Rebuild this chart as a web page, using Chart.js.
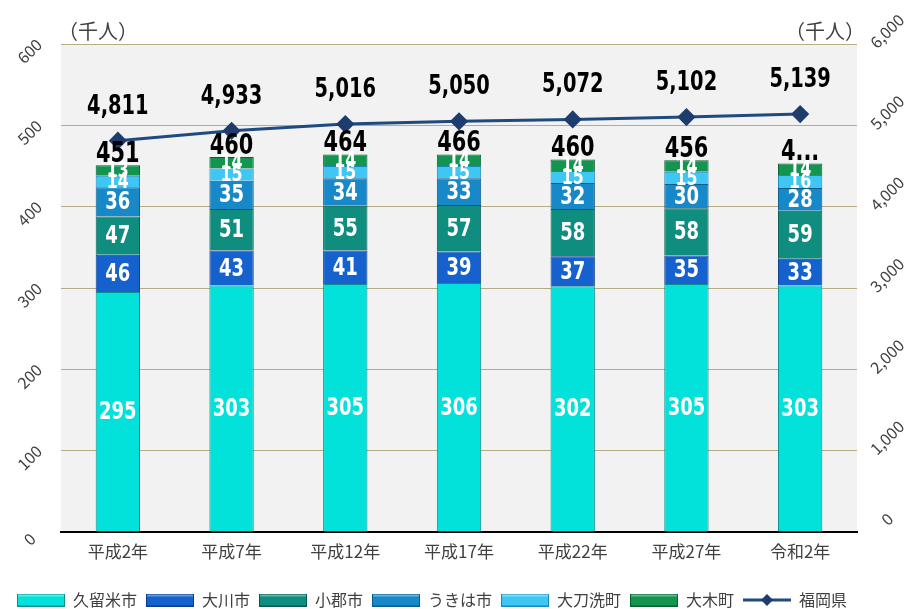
<!DOCTYPE html>
<html><head><meta charset="utf-8">
<script src="https://cdn.jsdelivr.net/npm/chart.js@4.4.1/dist/chart.umd.min.js"></script>
<style>html,body{margin:0;padding:0;background:#fff}#wrap{width:907px;height:609px}</style>
</head><body><div id="wrap"><canvas id="c" width="907" height="609"></canvas></div>
<script>
const categories = ['平成2年','平成7年','平成12年','平成17年','平成22年','平成27年','令和2年'];
const kurume   = [295,303,305,306,302,305,303];
const okawa    = [46,43,41,39,37,35,33];
const ogori    = [47,51,55,57,58,58,59];
const ukiha    = [36,35,34,33,32,30,28];
const tachiarai= [14,15,15,15,15,15,16];
const oki      = [13,14,14,14,14,14,14];
const totals   = [451,460,464,466,460,456,453];
const totalLabels = ['451','460','464','466','460','456','4...'];
const fukuoka  = [4811,4933,5016,5050,5072,5102,5139];
const leftTicks = [0,100,200,300,400,500,600];
const rightTicks = [0,1000,2000,3000,4000,5000,6000];
const unitLabel = '（千人）';

const JP = "'Noto Sans CJK JP','Noto Sans',sans-serif";
const NUM = "'DejaVu Sans','Noto Sans',sans-serif";
const fmt = v => v.toLocaleString('en-US');

const barSeries = [
  {label:'久留米市', data:kurume,   color:'#02E1DA', border:'#0a8f8a'},
  {label:'大川市',   data:okawa,    color:'#1562CE', border:'#0c3c88'},
  {label:'小郡市',   data:ogori,    color:'#0F8E80', border:'#075a50'},
  {label:'うきは市', data:ukiha,    color:'#1889C8', border:'#0c5a88'},
  {label:'大刀洗町', data:tachiarai,color:'#3EC6F5', border:'#1a88b8'},
  {label:'大木町',   data:oki,      color:'#13944F', border:'#0a5e30'}
];

function boxImg(fill, border){
  const c=document.createElement('canvas'); c.width=48; c.height=13;
  const x=c.getContext('2d');
  x.fillStyle=border; x.fillRect(0,0,48,13);
  x.fillStyle=fill; x.fillRect(1,1,46,11);
  x.fillStyle='rgba(255,255,255,0.35)'; x.fillRect(1,1,46,2);
  return c;
}
function lineImg(){
  const c=document.createElement('canvas'); c.width=48; c.height=14;
  const x=c.getContext('2d');
  x.strokeStyle='#1F4A80'; x.lineWidth=3; x.beginPath(); x.moveTo(0,7); x.lineTo(48,7); x.stroke();
  x.fillStyle='#1F3C6E'; x.beginPath(); x.moveTo(24,1); x.lineTo(30,7); x.lineTo(24,13); x.lineTo(18,7); x.closePath(); x.fill();
  return c;
}

const datasets = barSeries.map(s=>({
  type:'bar', label:s.label, data:s.data, backgroundColor:s.color, borderColor:s.border,
  borderWidth:1, yAxisID:'y', stack:'s', barPercentage:0.39, categoryPercentage:1, order:2,
  legendImg: boxImg(s.color, s.border)
}));
datasets.push({
  type:'line', label:'福岡県', data:fukuoka, yAxisID:'y1', borderColor:'#1F4A80', borderWidth:3,
  pointStyle:'rectRot', pointRadius:7, pointHoverRadius:7, pointBackgroundColor:'#1F3C6E', pointBorderColor:'#1F3C6E',
  order:1, legendImg: lineImg()
});

function condText(ctx, t, x, y, sx){
  ctx.save(); ctx.translate(x,y); ctx.scale(sx,1); ctx.fillText(t,0,0); ctx.restore();
}

const bgPlugin = {
  id:'bg',
  beforeDraw(chart){
    const {ctx, chartArea:a} = chart;
    ctx.save(); ctx.fillStyle='#F2F2F2'; ctx.fillRect(a.left,a.top,a.right-a.left,a.bottom-a.top); ctx.restore();
  }
};
const labelPlugin = {
  id:'labels',
  afterDatasetsDraw(chart){
    const ctx = chart.ctx; ctx.save();
    ctx.textAlign='center'; ctx.textBaseline='middle';
    barSeries.forEach((s,di)=>{
      const meta = chart.getDatasetMeta(di);
      meta.data.forEach((el,i)=>{
        const v = s.data[i];
        const cy = (el.y+el.base)/2;
        ctx.font = (v<20 ? 'bold 22px ' : 'bold 25px ') + NUM;
        ctx.fillStyle='#FFFFFF';
        condText(ctx, String(v), el.x, cy+1, 0.72);
      });
    });
    const topMeta = chart.getDatasetMeta(barSeries.length-1);
    ctx.font='bold 29px '+NUM; ctx.fillStyle='#000';
    topMeta.data.forEach((el,i)=>{ condText(ctx, totalLabels[i], el.x, el.y-11, 0.72); });
    const lm = chart.getDatasetMeta(barSeries.length);
    ctx.font='bold 27px '+NUM;
    lm.data.forEach((p,i)=>{ condText(ctx, fmt(fukuoka[i]), p.x, p.y-34, 0.72); });
    const a = chart.chartArea;
    ctx.font='20px '+JP; ctx.fillStyle='#404040';
    ctx.fillText(unitLabel, a.left+37, a.top-13);
    ctx.fillText(unitLabel, a.right-32, a.top-13);
    ctx.restore();
  }
};

new Chart(document.getElementById('c'), {
  data:{labels:categories, datasets},
  options:{
    responsive:false, animation:false, devicePixelRatio:1,
    layout:{padding:{top:44,left:8,right:0,bottom:-9}},
    plugins:{
      tooltip:{enabled:false},
      legend:{
        position:'bottom', align:'start',
        labels:{
          usePointStyle:true, pointStyleWidth:48, boxHeight:14, padding:9,
          font:{family:JP,size:16}, color:'#404040',
          generateLabels(chart){
            return chart.data.datasets.map((d,i)=>({
              text:d.label, pointStyle:d.legendImg, datasetIndex:i, hidden:false,
              fillStyle:'transparent', strokeStyle:'transparent', lineWidth:0, fontColor:'#404040'
            }));
          }
        }
      }
    },
    scales:{
      x:{
        stacked:true,
        grid:{display:false, drawTicks:false},
        border:{display:true,color:'#000',width:2},
        ticks:{font:{family:JP,size:17},color:'#404040',padding:9},
        afterFit(s){ s.height=51; }
      },
      y:{
        stacked:true, position:'left', min:0, max:600,
        afterBuildTicks(s){ s.ticks = leftTicks.map(v=>({value:v})); },
        grid:{color:'#B5AC84', lineWidth:1, drawTicks:false},
        border:{display:false},
        ticks:{font:{family:JP,size:16},color:'#404040',minRotation:45,maxRotation:45,padding:18,crossAlign:'center',labelOffset:7},
        afterFit(s){ s.width=53; }
      },
      y1:{
        position:'right', min:0, max:6000,
        afterBuildTicks(s){ s.ticks = rightTicks.map(v=>({value:v})); },
        grid:{display:false, drawTicks:false},
        border:{display:false},
        ticks:{font:{family:JP,size:16},color:'#404040',minRotation:45,maxRotation:45,padding:10,crossAlign:'center',labelOffset:-13,
          callback:v=>fmt(v)},
        afterFit(s){ s.width=50; }
      }
    }
  },
  plugins:[bgPlugin,labelPlugin]
});
</script></body></html>
